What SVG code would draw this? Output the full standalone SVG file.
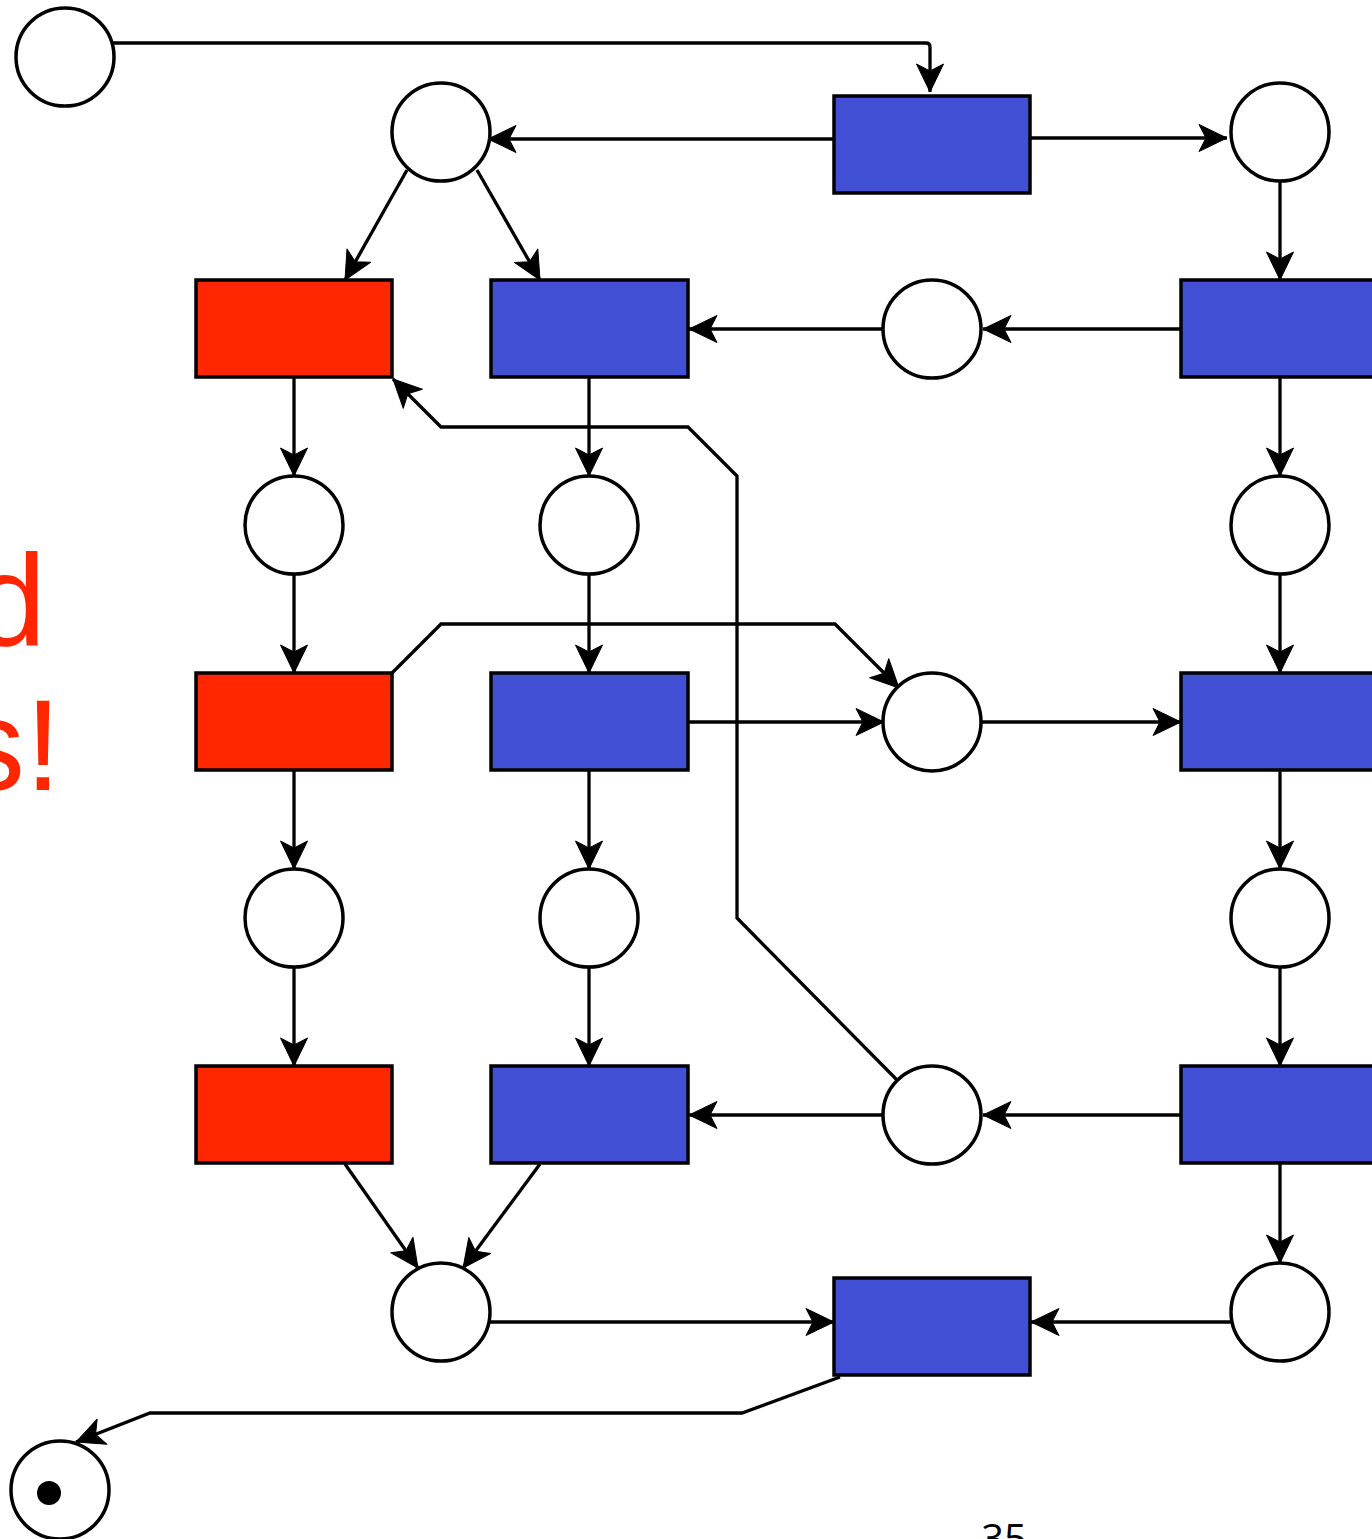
<svg xmlns="http://www.w3.org/2000/svg" width="1372" height="1539" viewBox="0 0 1372 1539">
<style>
.p{fill:#fff;stroke:#000;stroke-width:3.5}
.tb{fill:#4150D4;stroke:#000;stroke-width:3.5}
.tr{fill:#FF2600;stroke:#000;stroke-width:3.5}
.c{fill:none;stroke:#000;stroke-width:3.3;marker-end:url(#a)}
.lbl{font-family:"Liberation Sans",Arial,sans-serif;fill:#FF2600;font-size:130px}
</style>
<defs>
<marker id="a" viewBox="-30 -15 31 30" refX="0" refY="0" markerWidth="31" markerHeight="30" markerUnits="userSpaceOnUse" orient="auto">
<path d="M0,0 L-28,-13.5 L-21,0 L-28,13.5 Z" fill="#000" stroke="#000" stroke-width="1" stroke-linejoin="round"/>
</marker>
</defs>
<rect width="1372" height="1539" fill="#fff"/>
<text class="lbl" x="46" y="645" text-anchor="end">d</text>
<text class="lbl" x="61" y="790" text-anchor="end">s!</text>
<text x="1004" y="1553" text-anchor="middle" font-family="'Open Sans','DejaVu Sans',sans-serif" font-size="40" fill="#000">35</text>
<g id="connectors">
<path class="c" d="M108,43 H926 Q930,43 930,47 V92"/>
<path class="c" d="M834,139 H488"/>
<path class="c" d="M1030,138 H1227"/>
<path class="c" d="M1280,181 V280"/>
<path class="c" d="M407,170 L345,280"/>
<path class="c" d="M477,170 L540,280"/>
<path class="c" d="M1181,329 H983"/>
<path class="c" d="M883,329 H689"/>
<path class="c" d="M294,378 V476"/>
<path class="c" d="M589,378 V476"/>
<path class="c" d="M1280,378 V476"/>
<path class="c" d="M294,574 V673"/>
<path class="c" d="M589,574 V673"/>
<path class="c" d="M1280,574 V673"/>
<path class="c" d="M392,673 L441,624 H835 L899,688"/>
<path class="c" d="M688,722 H884"/>
<path class="c" d="M981,722 H1181"/>
<path class="c" d="M294,771 V869"/>
<path class="c" d="M589,771 V869"/>
<path class="c" d="M1280,771 V869"/>
<path class="c" d="M294,967 V1066"/>
<path class="c" d="M589,967 V1066"/>
<path class="c" d="M1280,967 V1066"/>
<path class="c" d="M1181,1115 H983"/>
<path class="c" d="M883,1115 H689"/>
<path class="c" d="M897,1080 L737,918 V476 L688,427 H441 L393,379"/>
<path class="c" d="M1280,1164 V1263"/>
<path class="c" d="M345,1164 L418,1268"/>
<path class="c" d="M540,1164 L463,1268"/>
<path class="c" d="M490,1322 H834"/>
<path class="c" d="M1231,1322 H1031"/>
<path class="c" d="M840,1377 L742,1413 H150 L76,1442"/>
</g>
<g id="p0"><circle class="p" cx="65" cy="57" r="49"/></g>
<g id="p1"><circle class="p" cx="441" cy="132" r="49"/></g>
<g id="t0"><rect class="tb" x="834" y="96" width="196" height="97"/></g>
<g id="p2"><circle class="p" cx="1280" cy="132" r="49"/></g>
<g id="r1"><rect class="tr" x="196" y="280" width="196" height="97"/></g>
<g id="b1"><rect class="tb" x="491" y="280" width="197" height="97"/></g>
<g id="p3"><circle class="p" cx="932" cy="329" r="49"/></g>
<g id="br1"><rect class="tb" x="1181" y="280" width="197" height="97"/></g>
<g id="p4"><circle class="p" cx="294" cy="525" r="49"/></g>
<g id="p5"><circle class="p" cx="589" cy="525" r="49"/></g>
<g id="p6"><circle class="p" cx="1280" cy="525" r="49"/></g>
<g id="r2"><rect class="tr" x="196" y="673" width="196" height="97"/></g>
<g id="b2"><rect class="tb" x="491" y="673" width="197" height="97"/></g>
<g id="p7"><circle class="p" cx="932" cy="722" r="49"/></g>
<g id="br2"><rect class="tb" x="1181" y="673" width="197" height="97"/></g>
<g id="p8"><circle class="p" cx="294" cy="918" r="49"/></g>
<g id="p9"><circle class="p" cx="589" cy="918" r="49"/></g>
<g id="p10"><circle class="p" cx="1280" cy="918" r="49"/></g>
<g id="r3"><rect class="tr" x="196" y="1066" width="196" height="97"/></g>
<g id="b3"><rect class="tb" x="491" y="1066" width="197" height="97"/></g>
<g id="p11"><circle class="p" cx="932" cy="1115" r="49"/></g>
<g id="br3"><rect class="tb" x="1181" y="1066" width="197" height="97"/></g>
<g id="p12"><circle class="p" cx="441" cy="1312" r="49"/></g>
<g id="t1"><rect class="tb" x="834" y="1278" width="196" height="97"/></g>
<g id="p13"><circle class="p" cx="1280" cy="1312" r="49"/></g>
<g id="p14"><circle class="p" cx="60" cy="1490" r="49"/><circle cx="49" cy="1493" r="12" fill="#000"/></g>
</svg>
